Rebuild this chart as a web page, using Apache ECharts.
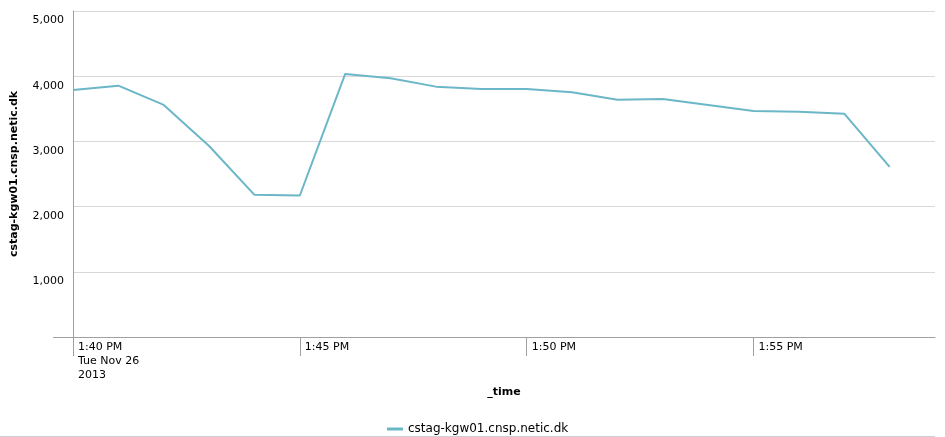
<!DOCTYPE html>
<html>
<head>
<meta charset="utf-8">
<script src="https://cdn.jsdelivr.net/npm/echarts@6/dist/echarts.min.js"></script>
<style>
html,body{margin:0;padding:0;background:#fff;}
#main{width:945px;height:437px;}
</style>
</head>
<body>
<div id="main"></div>
<script>
// Data (times are Tue Nov 26 2013, PM)
const seriesName = 'cstag-kgw01.cnsp.netic.dk';
const times = ['13:40','13:41','13:42','13:43','13:44','13:45','13:46','13:47','13:48','13:49',
               '13:50','13:51','13:52','13:53','13:54','13:55','13:56','13:57','13:58'];
const values = [3790,3855,3560,2930,2180,2170,4035,3970,3840,3805,
                3805,3755,3640,3650,3560,3465,3455,3425,2610];
const tickTimes = ['13:40','13:45','13:50','13:55'];
const axisStart = '13:40';
const axisEnd = '13:59';
const yTicks = [0,1000,2000,3000,4000,5000];

function t(hm){ return Date.UTC(2013,10,26,+hm.split(':')[0],+hm.split(':')[1]); }
const data = times.map((h,i)=>[t(h), values[i]]);
const tickVals = tickTimes.map(t);

const FONT = '"DejaVu Sans", "Liberation Sans", sans-serif';
const chart = echarts.init(document.getElementById('main'), null, {renderer:'canvas'});
chart.setOption({
  animation:false,
  backgroundColor:'#fff',
  textStyle:{fontFamily:FONT},
  grid:{left:73,right:10,top:11,bottom:100,containLabel:false},
  xAxis:{
    type:'value',
    min:t(axisStart), max:t(axisEnd), interval:300000,
    name:'_time', nameLocation:'middle', nameGap:47,
    nameTextStyle:{fontFamily:FONT,fontSize:11,fontWeight:'bold',color:'#000'},
    axisLine:{show:true,lineStyle:{color:'#a0a0a0',width:1}},
    axisTick:{show:true,length:19,lineStyle:{color:'#a0a0a0'},customValues:tickVals},
    splitLine:{show:false},
    axisLabel:{
      customValues:tickVals,
      align:'left', verticalAlign:'top', margin:3, padding:[0,0,0,5],
      fontFamily:FONT, fontSize:11, lineHeight:14, color:'#000',
      formatter:function(v){
        const d=new Date(v); let h=d.getUTCHours(); const m=d.getUTCMinutes();
        const ap = h>=12?'PM':'AM'; h = h%12; if(h===0) h=12;
        let s = h+':'+(m<10?'0':'')+m+' '+ap;
        if(v===t(axisStart)) s += '\nTue Nov 26\n2013';
        return s;
      }
    }
  },
  yAxis:{
    type:'value', min:yTicks[0], max:yTicks[yTicks.length-1], interval:1000,
    name:seriesName, nameLocation:'middle', nameGap:53, nameRotate:90,
    nameTextStyle:{fontFamily:FONT,fontSize:11,fontWeight:'bold',color:'#000'},
    axisLine:{show:true,lineStyle:{color:'#a0a0a0',width:1}},
    axisTick:{show:false},
    splitLine:{show:true,lineStyle:{color:'#d8d8d8',width:1}},
    axisLabel:{
      margin:9, fontFamily:FONT, fontSize:11, color:'#000',
      verticalAlign:'top', lineHeight:13, padding:[3,0,0,0],
      formatter:function(v){ return v===0?'':v.toLocaleString('en-US'); }
    }
  },
  legend:{
    show:true, left:382, top:418, itemWidth:16, itemHeight:3, itemGap:5,
    icon:'rect',
    textStyle:{fontFamily:FONT,fontSize:12,color:'#000'},
    data:[seriesName]
  },
  graphic:[
    {type:'line',shape:{x1:53,y1:337.5,x2:73,y2:337.5},style:{stroke:'#a0a0a0',lineWidth:1},silent:true},
    {type:'line',shape:{x1:0,y1:436.5,x2:935,y2:436.5},style:{stroke:'#cfcfcf',lineWidth:1},silent:true}
  ],
  series:[{
    name:seriesName, type:'line', data:data,
    showSymbol:false, symbol:'none',
    lineStyle:{color:'#6BB7C8',width:2},
    itemStyle:{color:'#6BB7C8'}
  }]
});
</script>
</body>
</html>
